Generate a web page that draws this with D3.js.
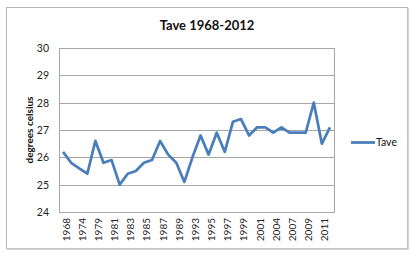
<!DOCTYPE html>
<html>
<head>
<meta charset="utf-8">
<script src="https://cdn.jsdelivr.net/npm/d3@7"></script>
<style>
  body { margin: 0; background: #fff; }
  svg { display: block; }
</style>
</head>
<body>
<div id="chart"></div>
<script>
// categories (not all years present), every other one is labelled
const years = [1968, 1971, 1974, 1977, 1979, 1980, 1981, 1982, 1983, 1984,
               1985, 1986, 1987, 1988, 1989, 1991, 1993, 1994, 1995, 1996,
               1997, 1998, 1999, 2000, 2001, 2002, 2004, 2005, 2007, 2008,
               2009, 2010, 2011, 2012];
const tave = [26.2, 25.8, 25.6, 25.4, 26.6, 25.8, 25.9, 25.0, 25.4, 25.5,
              25.8, 25.9, 26.6, 26.1, 25.8, 25.1, 26.0, 26.8, 26.1, 26.9,
              26.2, 27.3, 27.4, 26.8, 27.1, 27.1, 26.9, 27.1, 26.9, 26.9,
              26.9, 28.0, 26.5, 27.1];
const yTicks = [24, 25, 26, 27, 28, 29, 30];

const W = 418, H = 258;
const margin = { top: 48, right: 84, bottom: 46, left: 59 };
const width = W - margin.left - margin.right;
const height = H - margin.top - margin.bottom;
const font = "Lato, 'Open Sans', sans-serif";

const svg = d3.select("#chart").append("svg")
    .attr("width", W).attr("height", H);

// outer chart border
svg.append("rect")
    .attr("x", 6.5).attr("y", 7.5).attr("width", 401).attr("height", 241)
    .attr("fill", "#fff").attr("stroke", "#b8b8b8").attr("stroke-width", 1);
svg.append("path")
    .attr("d", "M408,8V249H7")
    .attr("fill", "none").attr("stroke", "#c8c8c8").attr("stroke-width", 1.5);

const g = svg.append("g")
    .attr("transform", `translate(${margin.left},${margin.top})`);

const x = d3.scaleBand().domain(years).range([0, width]);
const y = d3.scaleLinear().domain([24, 30]).range([height, 0]);

// gridlines
g.selectAll("line.grid")
    .data(yTicks)
    .join("line")
    .attr("class", "grid")
    .attr("x1", 0).attr("x2", width)
    .attr("y1", d => Math.round(y(d)) + 0.5).attr("y2", d => Math.round(y(d)) + 0.5)
    .attr("stroke", "#a6a6a6");

// plot area frame
g.append("rect")
    .attr("x", 0.5).attr("y", 0.5).attr("width", width).attr("height", height)
    .attr("fill", "none").attr("stroke", "#a6a6a6");

// y axis labels
const yAxis = g.append("g")
    .call(d3.axisLeft(y).tickValues(yTicks).tickFormat(d3.format("d"))
        .tickSize(0).tickPadding(10));
yAxis.select(".domain").remove();
yAxis.selectAll("text")
    .attr("font-family", font).attr("font-size", 10.5).attr("fill", "#222");

// x axis labels
const xAxis = g.append("g")
    .attr("transform", `translate(0,${height})`)
    .call(d3.axisBottom(x)
        .tickValues(years.filter((d, i) => i % 2 === 0))
        .tickSize(0));
xAxis.select(".domain").remove();
xAxis.selectAll("text")
    .attr("font-family", font).attr("font-size", 10).attr("fill", "#222")
    .attr("text-anchor", "end")
    .attr("dy", "0.35em")
    .attr("transform", "translate(0,6) rotate(-90)");

// line
const line = d3.line()
    .x((d, i) => x(years[i]) + x.bandwidth() / 2)
    .y(d => y(d));
g.append("path")
    .datum(tave)
    .attr("d", line)
    .attr("fill", "none")
    .attr("stroke", "#4a7ebb")
    .attr("stroke-width", 2.75)
    .attr("stroke-linejoin", "round");

// title
svg.append("text")
    .attr("x", 207).attr("y", 29.5)
    .attr("text-anchor", "middle")
    .attr("font-family", font).attr("font-weight", "bold")
    .attr("font-size", 13).attr("fill", "#111")
    .text("Tave 1968-2012");

// y axis title
svg.append("text")
    .attr("transform", `translate(32.5,${margin.top + height / 2}) rotate(-90)`)
    .attr("text-anchor", "middle")
    .attr("font-family", font).attr("font-weight", "bold")
    .attr("font-size", 10).attr("fill", "#111")
    .text("degrees celsius");

// legend
const leg = svg.append("g").attr("transform", "translate(351,142.5)");
leg.append("line")
    .attr("x1", 0).attr("x2", 24)
    .attr("stroke", "#4a7ebb").attr("stroke-width", 2.75);
leg.append("text")
    .attr("x", 25).attr("dy", "0.35em")
    .attr("font-family", font).attr("font-size", 10.5).attr("fill", "#111")
    .text("Tave");
</script>
</body>
</html>
